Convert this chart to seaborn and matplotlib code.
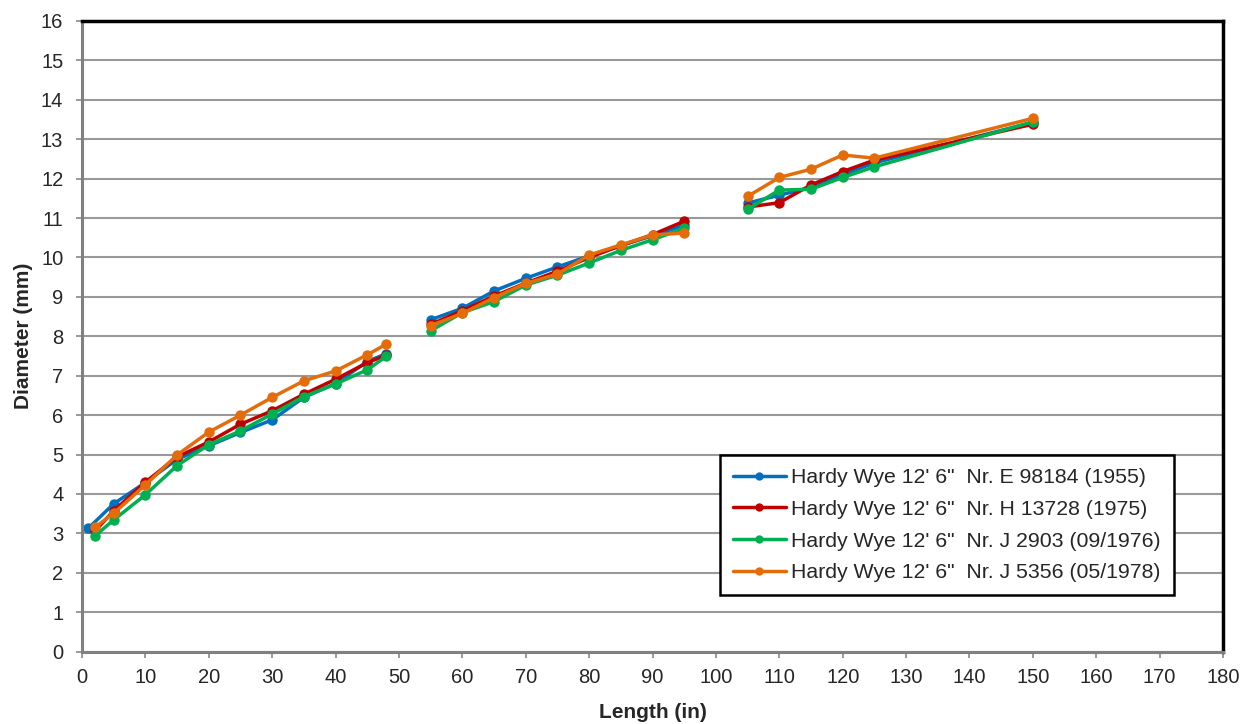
import numpy as np
import pandas as pd
import matplotlib
matplotlib.use("Agg")
import matplotlib.pyplot as plt
import seaborn as sns

# length positions (in) per segment
seg1_blue = [1, 5, 10, 15, 20, 25, 30, 35, 40, 45, 48]
seg1 = [2, 5, 10, 15, 20, 25, 30, 35, 40, 45, 48]
seg2 = [55, 60, 65, 70, 75, 80, 85, 90, 95]
seg3 = [105, 110, 115, 120, 125, 150]

labels = ['Hardy Wye 12\' 6"  Nr. E 98184 (1955)',
          'Hardy Wye 12\' 6"  Nr. H 13728 (1975)',
          'Hardy Wye 12\' 6"  Nr. J 2903 (09/1976)',
          'Hardy Wye 12\' 6"  Nr. J 5356 (05/1978)']
colors = ['#0070C0', '#C00000', '#00B050', '#E46C0A']

# diameters (mm)
e98184 = [[3.13, 3.75, 4.29, 4.88, 5.22, 5.56, 5.88, 6.45, 6.80, 7.36, 7.56],
          [8.42, 8.71, 9.15, 9.47, 9.76, 10.04, 10.30, 10.55, 10.82],
          [11.38, 11.58, 11.78, 12.10, 12.40, 13.43]]
h13728 = [[3.05, 3.57, 4.30, 4.94, 5.32, 5.77, 6.11, 6.53, 6.91, 7.33, 7.52],
          [8.30, 8.65, 9.02, 9.35, 9.65, 10.00, 10.30, 10.58, 10.92],
          [11.28, 11.39, 11.84, 12.18, 12.47, 13.38]]
j2903 = [[2.93, 3.34, 3.98, 4.72, 5.25, 5.60, 6.03, 6.47, 6.79, 7.15, 7.49],
         [8.14, 8.60, 8.88, 9.30, 9.55, 9.86, 10.18, 10.45, 10.74],
         [11.22, 11.71, 11.73, 12.03, 12.30, 13.44]]
j5356 = [[3.15, 3.51, 4.23, 4.99, 5.57, 6.00, 6.45, 6.87, 7.12, 7.53, 7.80],
         [8.27, 8.58, 8.98, 9.34, 9.58, 10.06, 10.32, 10.57, 10.62],
         [11.55, 12.03, 12.24, 12.60, 12.52, 13.53]]

rows = []
for lab, series in zip(labels, [e98184, h13728, j2903, j5356]):
    xs = [seg1_blue if lab == labels[0] else seg1, seg2, seg3]
    for k, (sx, sy) in enumerate(zip(xs, series)):
        for x, y in zip(sx, sy):
            rows.append({'Length': x, 'Diameter': y, 'Rod': lab, 'seg': k})
df = pd.DataFrame(rows)

sns.set_style("white")
plt.rcParams['font.family'] = ['Liberation Sans', 'DejaVu Sans']

fig, ax = plt.subplots(figsize=(12.54, 7.24), dpi=100)
fig.subplots_adjust(left=0.0654, right=0.9753, top=0.971, bottom=0.1)

sns.lineplot(data=df, x='Length', y='Diameter', hue='Rod', units='seg',
             estimator=None, palette=colors, marker='o', markersize=7.5,
             markeredgewidth=0, linewidth=2.5, ax=ax, sort=False)

ax.set_xlim(0, 180)
ax.set_ylim(0, 16)
ax.set_xticks(np.arange(0, 181, 10))
ax.set_yticks(np.arange(0, 17, 1))
ax.yaxis.grid(True, color='#999999', linewidth=1.5)
ax.set_axisbelow(True)
ax.tick_params(axis='both', labelsize=14.5, length=4.5, width=1.2, color='#888888',
               direction='out', left=True, bottom=True)
ax.tick_params(axis='x', pad=7)
ax.tick_params(axis='y', pad=9)
for s in ['left', 'bottom']:
    ax.spines[s].set_color('#808080')
    ax.spines[s].set_linewidth(2.2)
for s in ['top', 'right']:
    ax.spines[s].set_color('black')
    ax.spines[s].set_linewidth(2.5)

ax.set_xlabel('Length (in)', fontsize=15, fontweight='bold', labelpad=12)
ax.set_ylabel('Diameter (mm)', fontsize=15, fontweight='bold', labelpad=6)

leg = ax.legend(loc='lower right', bbox_to_anchor=(0.957, 0.089), fontsize=15.3,
                frameon=True, fancybox=False, framealpha=1, edgecolor='black',
                handlelength=2.5, borderpad=0.62, labelspacing=0.6,
                handletextpad=0.25, borderaxespad=0)
leg.get_frame().set_linewidth(1.8)
for h in leg.legend_handles:
    h.set_markersize(6)

fig.savefig('out.png', dpi=100)
